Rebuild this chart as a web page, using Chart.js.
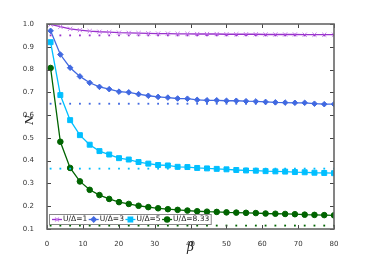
<!DOCTYPE html>
<html>
<head>
<meta charset="utf-8">
<script src="https://cdn.jsdelivr.net/npm/chart.js@4/dist/chart.umd.min.js"></script>
<style>
  html, body { margin: 0; padding: 0; background: #fff; }
  canvas { display: block; }
</style>
</head>
<body>
<canvas id="grafico" width="372" height="256"></canvas>
<script>
// beta values (x)
const betas = [1, 3.72, 6.45, 9.17, 11.9, 14.62, 17.34, 20.07, 22.79, 25.52, 28.24, 30.97, 33.69, 36.41, 39.14,
               41.86, 44.59, 47.31, 50.03, 52.76, 55.48, 58.21, 60.93, 63.66, 66.38, 69.1, 71.83, 74.55, 77.28, 80];

const serieU1 = [0.998, 0.988, 0.979, 0.973, 0.969, 0.966, 0.964, 0.962, 0.961, 0.960, 0.959, 0.958, 0.958, 0.957, 0.957,
                 0.956, 0.956, 0.956, 0.955, 0.955, 0.955, 0.955, 0.954, 0.954, 0.954, 0.954, 0.953, 0.953, 0.953, 0.953];
const serieU3 = [0.970, 0.866, 0.808, 0.770, 0.742, 0.724, 0.714, 0.703, 0.700, 0.692, 0.685, 0.680, 0.677, 0.673, 0.672,
                 0.667, 0.665, 0.665, 0.663, 0.663, 0.661, 0.660, 0.658, 0.656, 0.655, 0.654, 0.654, 0.650, 0.648, 0.648];
const serieU5 = [0.920, 0.688, 0.578, 0.512, 0.470, 0.442, 0.427, 0.411, 0.405, 0.394, 0.387, 0.381, 0.379, 0.373, 0.372,
                 0.368, 0.366, 0.364, 0.362, 0.359, 0.357, 0.356, 0.354, 0.353, 0.352, 0.350, 0.349, 0.347, 0.346, 0.345];
const serieU833 = [0.807, 0.483, 0.368, 0.309, 0.272, 0.249, 0.232, 0.218, 0.210, 0.202, 0.196, 0.191, 0.187, 0.184, 0.181,
                   0.178, 0.176, 0.175, 0.173, 0.172, 0.171, 0.170, 0.168, 0.167, 0.166, 0.165, 0.163, 0.162, 0.161, 0.160];

// horizontal dotted levels
const niveis = [0.95, 0.65, 0.365, 0.115];

const rotulos = ['U/\u0394=1', 'U/\u0394=3', 'U/\u0394=5', 'U/\u0394=8.33'];
const xTicks = [0, 10, 20, 30, 40, 50, 60, 70, 80];
const yTicks = [0.1, 0.2, 0.3, 0.4, 0.5, 0.6, 0.7, 0.8, 0.9, 1.0];

const estilos = [
    { line: '#9932CC', point: '#C77DEB', style: 'crossRot', radius: 3, border: 1 },
    { line: '#4169E1', point: '#4169E1', style: 'rectRot', radius: 2.8, border: 1 },
    { line: '#00BFFF', point: '#00BFFF', style: 'rect', radius: 3.5, border: 1 },
    { line: '#006400', point: '#006400', style: 'circle', radius: 2.8, border: 1 }
];
const series = [serieU1, serieU3, serieU5, serieU833];

function pontos(ys) {
    return betas.map((b, i) => ({ x: b, y: ys[i] }));
}

const datasets = [];
// dotted limits first, behind the curves
niveis.forEach((v, i) => {
    datasets.push({
        label: 'lim' + i,
        data: betas.map(b => ({ x: b, y: v })),
        showLine: false,
        pointStyle: 'rect',
        pointRadius: 1.3,
        pointBackgroundColor: estilos[i].line,
        pointBorderWidth: 0
    });
});
series.forEach((ys, i) => {
    const e = estilos[i];
    datasets.push({
        label: rotulos[i],
        data: pontos(ys),
        borderColor: e.line,
        borderWidth: 1.3,
        pointStyle: e.style,
        pointRadius: e.radius,
        pointBackgroundColor: e.point,
        pointBorderColor: e.point,
        pointBorderWidth: e.border,
        tension: 0
    });
});

// frame, inward ticks, axis titles and boxed legend
const extras = {
    id: 'extras',
    afterDraw(chart) {
        const ctx = chart.ctx;
        const a = chart.chartArea;
        const xs = chart.scales.x, ys = chart.scales.y;
        ctx.save();

        // ticks on all four sides
        ctx.strokeStyle = '#444';
        ctx.lineWidth = 1;
        ctx.beginPath();
        xTicks.forEach(t => {
            const px = Math.round(xs.getPixelForValue(t)) + 0.5;
            ctx.moveTo(px, a.bottom); ctx.lineTo(px, a.bottom - 4);
            ctx.moveTo(px, a.top); ctx.lineTo(px, a.top + 4);
        });
        yTicks.forEach(t => {
            const py = Math.round(ys.getPixelForValue(t)) + 0.5;
            ctx.moveTo(a.left, py); ctx.lineTo(a.left + 4, py);
            ctx.moveTo(a.right, py); ctx.lineTo(a.right - 4, py);
        });
        ctx.stroke();

        // frame
        ctx.strokeStyle = '#666';
        ctx.lineWidth = 1.6;
        ctx.strokeRect(a.left, a.top, a.right - a.left, a.bottom - a.top);

        // axis titles
        ctx.fillStyle = '#222';
        ctx.font = 'italic 12px "DejaVu Serif", serif';
        ctx.textAlign = 'center';
        ctx.textBaseline = 'middle';
        ctx.fillText('\u03B2', (a.left + a.right) / 2, 248);
        ctx.save();
        ctx.translate(30, 120);
        ctx.rotate(-Math.PI / 2);
        ctx.font = 'italic 11px "DejaVu Serif", serif';
        ctx.fillText('N', 0, 0);
        ctx.restore();

        // legend box
        const lx = 49, ly = 214, lh = 10;
        ctx.font = '7.5px "DejaVu Sans", sans-serif';
        ctx.textAlign = 'left';
        let x = lx + 3;
        const posicoes = [];
        rotulos.forEach(r => {
            posicoes.push(x);
            x += 10 + 1 + ctx.measureText(r).width + 1.5;
        });
        ctx.fillStyle = '#fff';
        ctx.fillRect(lx, ly, x - lx + 1, lh);
        ctx.strokeStyle = '#888';
        ctx.lineWidth = 1;
        ctx.strokeRect(lx + 0.5, ly + 0.5, x - lx, lh);
        const cy = ly + lh / 2 + 0.5;
        rotulos.forEach((r, i) => {
            const e = estilos[i];
            const x0 = posicoes[i];
            ctx.strokeStyle = e.line;
            ctx.lineWidth = 1.3;
            ctx.beginPath();
            ctx.moveTo(x0, cy); ctx.lineTo(x0 + 10, cy);
            ctx.stroke();
            ctx.fillStyle = e.point;
            ctx.strokeStyle = e.point;
            Chart.helpers.drawPoint(ctx, {
                pointStyle: e.style, radius: e.radius * 0.9, borderWidth: e.border, rotation: 0
            }, x0 + 5, cy);
            ctx.fillStyle = '#222';
            ctx.textBaseline = 'middle';
            ctx.fillText(r, x0 + 11, cy);
        });
        ctx.restore();
    }
};

const chart = new Chart(document.getElementById('grafico').getContext('2d'), {
    type: 'line',
    data: { datasets: datasets },
    options: {
        responsive: false,
        animation: false,
        layout: { padding: { top: 24, right: 38, left: 0, bottom: 0 } },
        plugins: { legend: { display: false }, tooltip: { enabled: false } },
        scales: {
            x: {
                type: 'linear',
                min: 0,
                max: 80,
                grid: { display: false },
                border: { display: false },
                afterFit: s => { s.height = 27; },
                afterBuildTicks: s => { s.ticks = xTicks.map(v => ({ value: v })); },
                ticks: {
                    padding: 3,
                    color: '#333',
                    font: { size: 7, family: '"DejaVu Sans", sans-serif' },
                    maxRotation: 0
                }
            },
            y: {
                min: 0.1,
                max: 1.0,
                grid: { display: false },
                border: { display: false },
                afterFit: s => { s.width = 47; },
                afterBuildTicks: s => { s.ticks = yTicks.map(v => ({ value: v })); },
                ticks: {
                    padding: 5,
                    color: '#333',
                    font: { size: 7, family: '"DejaVu Sans", sans-serif' },
                    callback: v => Number(v).toFixed(1)
                }
            }
        }
    },
    plugins: [extras]
});
</script>
</body>
</html>
